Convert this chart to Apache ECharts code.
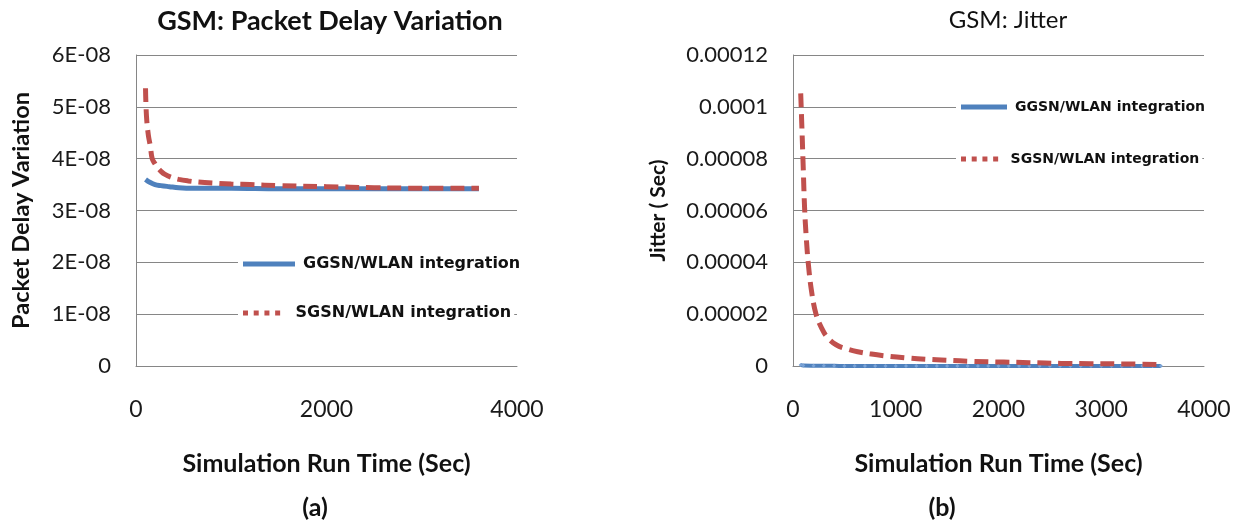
<!DOCTYPE html>
<html>
<head>
<meta charset="utf-8">
<script src="https://cdn.jsdelivr.net/npm/echarts@6/dist/echarts.min.js"></script>
<style>html,body{margin:0;padding:0;background:#fff}#c{width:1243px;height:525px}</style>
</head>
<body>
<div id="c"></div>
<script>
// ---------- data (a): Packet Delay Variation ----------
const timeA_ggsn = [100, 150, 200, 260, 350, 450, 600, 800, 1000, 1500, 2000, 2500, 3000, 3600];
const ggsnPDV = [3.60e-8, 3.54e-8, 3.50e-8, 3.48e-8, 3.46e-8, 3.44e-8, 3.43e-8, 3.43e-8, 3.43e-8, 3.42e-8, 3.42e-8, 3.42e-8, 3.42e-8, 3.42e-8];
const timeA_sgsn = [100, 110, 130, 150, 170, 200, 225, 260, 300, 370, 450, 550, 650, 800, 1000, 1200, 1500, 2000, 2500, 3000, 3600];
const sgsnPDV = [5.36e-8, 4.82e-8, 4.45e-8, 4.25e-8, 4.00e-8, 3.90e-8, 3.83e-8, 3.76e-8, 3.70e-8, 3.64e-8, 3.60e-8, 3.57e-8, 3.55e-8, 3.53e-8, 3.51e-8, 3.50e-8, 3.48e-8, 3.46e-8, 3.44e-8, 3.43e-8, 3.43e-8];
const yTicksA = ['0', '1E-08', '2E-08', '3E-08', '4E-08', '5E-08', '6E-08'];
const xTicksA = ['0', '2000', '4000'];

// ---------- data (b): Jitter ----------
const timeB_ggsn = [75, 100, 200, 300, 400, 500, 600, 700, 800, 900, 1000, 1100, 1200, 1300, 1400, 1500, 1600, 1700, 1800, 1900, 2000, 2100, 2200, 2300, 2400, 2500, 2600, 2700, 2800, 2900, 3000, 3100, 3200, 3300, 3400, 3500, 3580];
const ggsnJitter = [4e-7, 1.5e-7, 8e-8, 6e-8, 5e-8, 4e-8, 4e-8, 4e-8, 4e-8, 4e-8, 3.5e-8, 3.5e-8, 3.5e-8, 3.5e-8, 3.5e-8, 3.5e-8, 3.5e-8, 3.5e-8, 3.5e-8, 3.5e-8, 3.5e-8, 3.5e-8, 3.5e-8, 3.5e-8, 3.5e-8, 3.5e-8, 3.5e-8, 3.5e-8, 3.5e-8, 3.5e-8, 3.5e-8, 3.5e-8, 3.5e-8, 3.5e-8, 3.5e-8, 3.5e-8, 3.5e-8];
const timeB_sgsn = [75, 90, 100, 113, 130, 150, 180, 224, 280, 336, 420, 522, 630, 746, 900, 1118, 1300, 1491, 1750, 2050, 2300, 2608, 2900, 3200, 3580];
const sgsnJitter = [1.052e-4, 8.8e-5, 7.6e-5, 6.08e-5, 4.9e-5, 3.91e-5, 2.9e-5, 2.0e-5, 1.45e-5, 1.1e-5, 8.2e-6, 6.6e-6, 5.5e-6, 4.7e-6, 3.9e-6, 3.1e-6, 2.6e-6, 2.2e-6, 1.8e-6, 1.5e-6, 1.3e-6, 1.0e-6, 9e-7, 8e-7, 6e-7];
const yTicksB = ['0', '0.00002', '0.00004', '0.00006', '0.00008', '0.0001', '0.00012'];
const xTicksB = ['0', '1000', '2000', '3000', '4000'];

const seriesNames = ['GGSN/WLAN integration', 'SGSN/WLAN integration'];
const titles = ['GSM: Packet Delay Variation', 'GSM: Jitter'];
const xName = 'Simulation Run Time (Sec)';
const yNames = ['Packet Delay Variation', 'Jitter ( Sec)'];
const panelLabels = ['(a)', '(b)'];

const BLUE = '#4F81BD', RED = '#C0504D', GRID = '#868686';
const zip = (xs, ys) => xs.map((x, i) => [x, ys[i]]);
const calibri = 'Lato, "Open Sans", sans-serif';

const chart = echarts.init(document.getElementById('c'), null, {renderer: 'canvas'});

function yAxisCfg(gi, max, step, labels, name) {
  return {
    type: 'value', gridIndex: gi, min: 0, max: max, interval: step,
    axisLine: {show: true, lineStyle: {color: GRID, width: 1}},
    axisTick: {show: false},
    splitLine: {show: true, lineStyle: {color: GRID, width: 1}},
    axisLabel: {
      margin: 25, fontFamily: calibri, fontSize: 22, color: '#1a1a1a',
      formatter: v => labels[Math.round(v / step)]
    },
    name: name, nameLocation: 'middle', nameRotate: 90,
    nameGap: gi === 0 ? 103 : 124,
    nameTextStyle: {fontFamily: calibri, fontWeight: 'bold', fontSize: gi === 0 ? 23.5 : 21, color: '#111'}
  };
}
function xAxisCfg(gi, step, labels) {
  return {
    type: 'value', gridIndex: gi, min: 0, max: 4000, interval: step,
    axisLine: {show: true, lineStyle: {color: GRID, width: 1}},
    axisTick: {show: false},
    splitLine: {show: false},
    axisLabel: {
      margin: 32, fontFamily: calibri, fontSize: 23, color: '#1a1a1a',
      formatter: v => labels[Math.round(v / step)]
    },
    name: xName, nameLocation: 'middle', nameGap: 85,
    nameTextStyle: {fontFamily: calibri, fontWeight: 'bold', fontSize: 25, color: '#111'}
  };
}

function legendCfg(name, left, top, fontSize, width, isRed) {
  return {
    data: [isRed
      ? {name: name, icon: 'path://M0,0h7v7h-7z M15,0h7v7h-7z M30,0h7v7h-7z M45,0h7v7h-7z'}
      : {name: name, icon: 'rect'}],
    left: left, top: top, orient: 'vertical',
    backgroundColor: '#fff', padding: [4, 3, 4, 5],
    itemWidth: width, itemHeight: 5, selectedMode: false,
    textStyle: {fontFamily: '"DejaVu Sans", sans-serif', fontWeight: 'bold', fontSize: fontSize, color: '#111', lineHeight: 18, padding: [0, 0, 0, 3]}
  };
}

const option = {
  animation: false,
  backgroundColor: '#fff',
  title: [
    {text: titles[0], left: 330, top: 8, textAlign: 'center', padding: 0,
      textStyle: {fontFamily: calibri, fontWeight: 'bold', fontSize: 27, color: '#111'}},
    {text: titles[1], left: 1008, top: 8, textAlign: 'center', padding: 0,
      textStyle: {fontFamily: calibri, fontWeight: 'normal', fontSize: 24, color: '#111'}},
    {text: panelLabels[0], left: 315, top: 495, textAlign: 'center', padding: 0,
      textStyle: {fontFamily: calibri, fontWeight: 'bold', fontSize: 25, color: '#111'}},
    {text: panelLabels[1], left: 942, top: 495, textAlign: 'center', padding: 0,
      textStyle: {fontFamily: calibri, fontWeight: 'bold', fontSize: 25, color: '#111'}}
  ],
  legend: [
    legendCfg(seriesNames[0], 238, 251, 16, 52, false),
    legendCfg(seriesNames[1], 238, 300, 16, 52, true),
    legendCfg(seriesNames[0], 956, 94, 14, 46, false),
    legendCfg(seriesNames[1], 956, 146, 14, 46, true)
  ],
  grid: [
    {left: 136, top: 55, width: 381, height: 311},
    {left: 793, top: 55, width: 411, height: 311}
  ],
  xAxis: [xAxisCfg(0, 2000, xTicksA), xAxisCfg(1, 1000, xTicksB)],
  yAxis: [
    yAxisCfg(0, 6e-8, 1e-8, yTicksA, yNames[0]),
    yAxisCfg(1, 0.00012, 0.00002, yTicksB, yNames[1])
  ],
  series: [
    {name: seriesNames[0], type: 'line', xAxisIndex: 0, yAxisIndex: 0, data: zip(timeA_ggsn, ggsnPDV),
      smooth: 0.4, symbol: 'none', color: BLUE, lineStyle: {color: BLUE, width: 5}, z: 2},
    {name: seriesNames[1], type: 'line', xAxisIndex: 0, yAxisIndex: 0, data: zip(timeA_sgsn, sgsnPDV),
      smooth: 0.4, symbol: 'none', color: RED, lineStyle: {color: RED, width: 5, type: [14, 7]}, z: 3},
    {name: seriesNames[0], type: 'line', xAxisIndex: 1, yAxisIndex: 1, data: zip(timeB_ggsn, ggsnJitter),
      smooth: 0.3, symbol: 'diamond', symbolSize: 4, showSymbol: true, color: BLUE,
      itemStyle: {color: '#7aa3d6'}, lineStyle: {color: BLUE, width: 4}, z: 2},
    {name: seriesNames[1], type: 'line', xAxisIndex: 1, yAxisIndex: 1, data: zip(timeB_sgsn, sgsnJitter),
      smooth: 0.4, symbol: 'none', color: RED, lineStyle: {color: RED, width: 5, type: [14, 7]}, z: 3}
  ]
};
chart.setOption(option);
</script>
</body>
</html>
